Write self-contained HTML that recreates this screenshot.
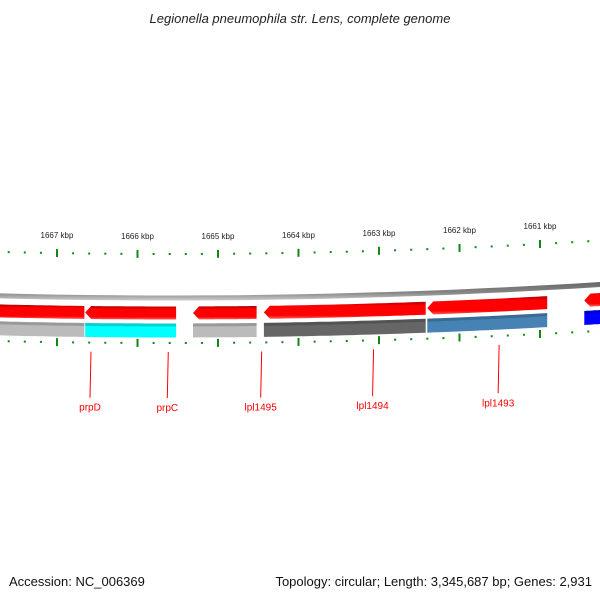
<!DOCTYPE html>
<html><head><meta charset="utf-8"><style>
html,body{margin:0;padding:0;background:#fff;}
svg{display:block;font-family:"Liberation Sans","DejaVu Sans",sans-serif;}
</style></head><body>
<svg id="map" width="600" height="600" viewBox="0 0 600 600" xmlns="http://www.w3.org/2000/svg">
<defs>
<linearGradient id="gRed" x1="0" y1="0" x2="0" y2="1">
<stop offset="0" stop-color="#b00000"/><stop offset="0.25" stop-color="#ff0000"/><stop offset="0.8" stop-color="#ff0000"/><stop offset="1" stop-color="#ff6060"/></linearGradient>
<linearGradient id="gBack" x1="0" y1="0" x2="0" y2="1">
<stop offset="0" stop-color="#666"/><stop offset="0.6" stop-color="#888"/><stop offset="1" stop-color="#ccc"/></linearGradient>
</defs>
<text x="300" y="23" text-anchor="middle" font-size="13" font-style="italic" fill="#222">Legionella pneumophila str. Lens, complete genome</text>
<g id="ticks"></g>
<g id="backbone"></g>
<g id="genes"></g>
<g id="labels"></g>
<text x="9" y="586" font-size="13" fill="#111">Accession: NC_006369</text>
<text x="592" y="586" text-anchor="end" font-size="13" fill="#111">Topology: circular; Length: 3,345,687 bp; Genes: 2,931</text>
</svg>
<script>
const tickKbp = [1667, 1666, 1665, 1664, 1663, 1662, 1661];
const tickLabels = ["1667 kbp", "1666 kbp", "1665 kbp", "1664 kbp", "1663 kbp", "1662 kbp", "1661 kbp"];
const geneStart = [1667.8, 1666.65, 1665.31, 1664.43, 1662.40, 1660.45];
const geneEnd = [1666.66, 1665.52, 1664.52, 1662.42, 1660.91, 1659.8];
const geneColors = ["#bbbbbb", "#00ffff", "#bbbbbb", "#666666", "#4682b4", "#0000ff"];
const labelNames = ["prpD", "prpC", "lpl1495", "lpl1494", "lpl1493"];
const labelKbp = [1666.59, 1665.63, 1664.47, 1663.08, 1661.52];

const NS = "http://www.w3.org/2000/svg";
function X(v){ return 57 + (1667 - v) * 80.5; }
function off(x){ return -7.3e-5 * (x - 170) * (x - 170); }
function mk(tag, attrs, parent){ const e = document.createElementNS(NS, tag); for (const k in attrs) e.setAttribute(k, attrs[k]); parent.appendChild(e); return e; }

const ticks = document.getElementById('ticks');
for (let i = 0; i < tickKbp.length; i++) {
  const x = X(tickKbp[i]);
  const t = mk('text', {x: x, y: 239 + off(x), 'text-anchor': 'middle', 'font-size': 8, fill: '#222'}, ticks);
  t.textContent = tickLabels[i];
  
  
}
for (let v = 1668; v >= 1659.5; v -= 0.2) {
  const vv = Math.round(v * 10) / 10;
  const x = X(vv);
  if (x < -5 || x > 605) continue;
  const major = Math.abs(vv - Math.round(vv)) < 0.01;
  const yt = 254 + off(x), yb = 343 + off(x) * 0.9 + (x > 300 ? 0 : 0);
  for (const y of [yt, yb]) {
    const r = mk('rect', major ? {x: x - 1, y: y - 4, width: 2, height: 8, fill: '#118811'} : {x: x - 1, y: y - 1, width: 2, height: 2, fill: '#118811'}, ticks);
    
    
  }
}

function band(x1, x2, top, h){
  let d = '';
  const n = 20;
  for (let i = 0; i <= n; i++) { const x = x1 + (x2 - x1) * i / n; d += (i ? 'L' : 'M') + x.toFixed(1) + ' ' + (top + off(x)).toFixed(1); }
  for (let i = n; i >= 0; i--) { const x = x1 + (x2 - x1) * i / n; d += 'L' + x.toFixed(1) + ' ' + (top + h + off(x)).toFixed(1); }
  return d + 'Z';
}
const bb = document.getElementById('backbone');
const bp = mk('path', {d: band(-5, 605, 295.5, 5), fill: 'url(#gBack)'}, bb);



const genes = document.getElementById('genes');
for (let i = 0; i < geneStart.length; i++) {
  const xa = X(geneStart[i]), xb = X(geneEnd[i]);
  const x1 = Math.min(xa, xb), x2 = Math.max(xa, xb);
  const top = 306.5, h = 13;
  const head = 6;
  let d = '';
  const n = 20;
  const hx = x1 + head;
  d += 'M' + x1 + ' ' + (top + h / 2 + off(x1));
  for (let k = 0; k <= n; k++) { const x = hx + (x2 - hx) * k / n; d += 'L' + x.toFixed(1) + ' ' + (top + off(x)).toFixed(1); }
  for (let k = n; k >= 0; k--) { const x = hx + (x2 - hx) * k / n; d += 'L' + x.toFixed(1) + ' ' + (top + h + off(x)).toFixed(1); }
  d += 'Z';
  const a = mk('path', {d: d, fill: 'url(#gRed)'}, genes);
  
  
  const b = mk('path', {d: band(x1, x2, 323.5, 14), fill: geneColors[i]}, genes);
  
  
  const s = mk('path', {d: band(x1, x2, 323.5, 3), fill: '#000', 'fill-opacity': 0.18}, genes);
  
  
}

const labels = document.getElementById('labels');
for (let i = 0; i < labelNames.length; i++) {
  const x = X(labelKbp[i]);
  const ly = 398 + off(x) * 0.6;
  const l = mk('line', {x1: x + 1, y1: 352 + off(x) * 0.9, x2: x, y2: ly, stroke: '#ff0000', 'stroke-width': 1}, labels);
  
  
  const t = mk('text', {x: x, y: ly + 13, 'text-anchor': 'middle', 'font-size': 10, fill: '#ff0000'}, labels);
  t.textContent = labelNames[i];
  
  
}
</script>
</body></html>
